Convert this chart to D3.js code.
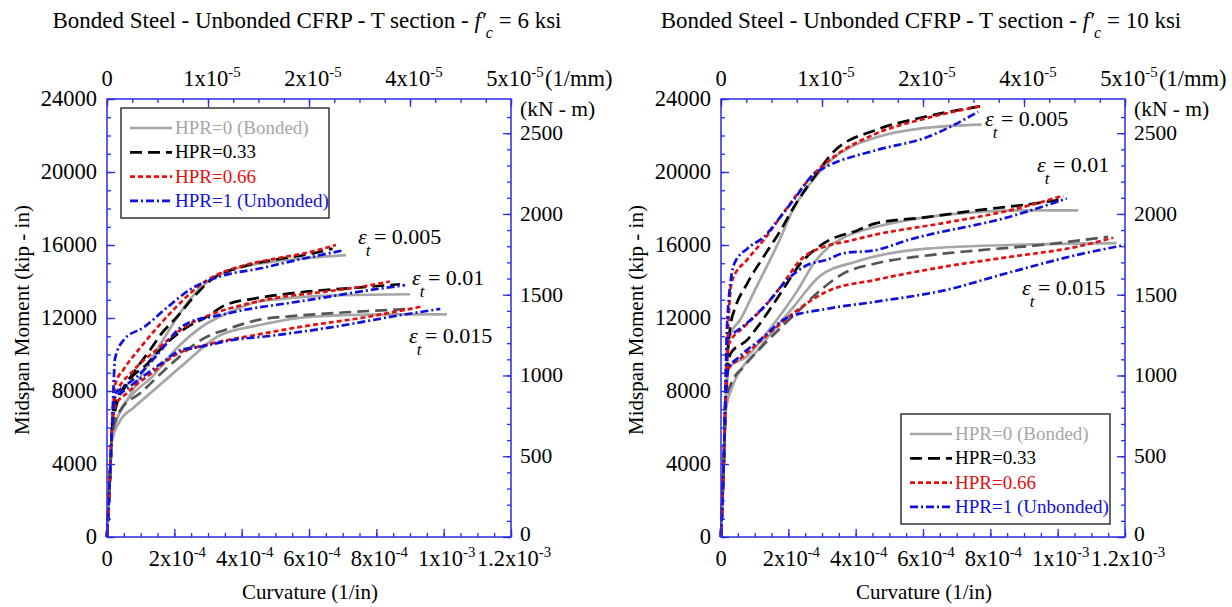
<!DOCTYPE html>
<html>
<head>
<meta charset="utf-8">
<script src="https://cdn.jsdelivr.net/npm/d3@7"></script>
<style>
  html, body { margin: 0; padding: 0; background: #fff; }
  svg { display: block; font-family: "Liberation Serif", "Times New Roman", serif; }
</style>
</head>
<body>
<svg id="chart" width="1232" height="607"></svg>
<script>
// Moment–curvature curves, [curvature (1/in), moment (kip-in)]
// f'c = 6 ksi
const f6_005_h0  = [[0,0],[0.08e-4,3000],[0.15e-4,5600],[0.3e-4,6500],[0.6e-4,7500],[1e-4,8800],[1.5e-4,10300],[2e-4,11800],[2.5e-4,13100],[3e-4,14000],[3.5e-4,14500],[4e-4,14800],[5e-4,15100],[6e-4,15300],[7.1e-4,15450]];
const f6_005_h33 = [[0,0],[0.08e-4,3000],[0.15e-4,5800],[0.2e-4,7200],[0.4e-4,7900],[0.9e-4,9300],[1.3e-4,10300],[1.6e-4,11100],[2.1e-4,12100],[2.6e-4,13200],[3.1e-4,14100],[4e-4,14800],[5e-4,15200],[6e-4,15500],[6.7e-4,15800]];
const f6_005_h66 = [[0,0],[0.08e-4,3000],[0.15e-4,6000],[0.25e-4,8400],[0.5e-4,9200],[1e-4,10400],[1.5e-4,11500],[2e-4,12500],[2.5e-4,13400],[3e-4,14100],[4e-4,14850],[5e-4,15250],[6e-4,15600],[6.8e-4,16000]];
const f6_005_h1  = [[0,0],[0.08e-4,3000],[0.15e-4,6000],[0.24e-4,9800],[0.5e-4,10800],[1.1e-4,11500],[1.8e-4,12600],[2.5e-4,13600],[3.4e-4,14300],[4.5e-4,14700],[5.7e-4,15200],[7e-4,15700]];
const f6_01_h0   = [[0,0],[0.08e-4,3000],[0.15e-4,5500],[0.4e-4,6900],[0.8e-4,7900],[1.3e-4,8700],[2.1e-4,10400],[2.8e-4,11500],[3.75e-4,12400],[4.5e-4,12900],[5.5e-4,13100],[7e-4,13250],[9e-4,13300]];
const f6_01_h33  = [[0,0],[0.08e-4,3000],[0.15e-4,5800],[0.25e-4,7000],[0.6e-4,8400],[1.2e-4,9500],[1.7e-4,10500],[2.3e-4,11400],[3e-4,12100],[3.5e-4,12700],[4.5e-4,13100],[5.7e-4,13400],[7.7e-4,13700],[8.7e-4,13850]];
const f6_01_h66  = [[0,0],[0.08e-4,3000],[0.15e-4,6000],[0.24e-4,7700],[0.8e-4,9150],[1.5e-4,10300],[2.3e-4,11500],[3.1e-4,12200],[4e-4,12700],[5e-4,13100],[6.5e-4,13450],[7.5e-4,13700],[8.4e-4,14000]];
const f6_01_h1   = [[0,0],[0.08e-4,3000],[0.15e-4,6000],[0.22e-4,7800],[0.4e-4,8100],[0.9e-4,8800],[1.5e-4,10000],[2.2e-4,11500],[2.5e-4,11800],[3.2e-4,12100],[4.25e-4,12500],[5.5e-4,12850],[6.7e-4,13200],[7.7e-4,13500],[8.85e-4,13800]];
const f6_015_h0  = [[0,0],[0.08e-4,3000],[0.15e-4,5300],[0.4e-4,6400],[0.8e-4,7100],[1.3e-4,7900],[2.3e-4,9500],[3.3e-4,11000],[4.5e-4,11600],[5.7e-4,12000],[7e-4,12150],[8.5e-4,12200],[1.01e-3,12200]];
const f6_015_h33 = [[0,0],[0.08e-4,3000],[0.15e-4,5600],[0.4e-4,6950],[1e-4,7900],[1.8e-4,9300],[2.8e-4,10800],[3.75e-4,11500],[4.5e-4,11900],[5.5e-4,12100],[7e-4,12300],[9.05e-4,12500]];
const f6_015_h66 = [[0,0],[0.08e-4,3000],[0.15e-4,5900],[0.25e-4,7200],[0.6e-4,7900],[1.3e-4,8950],[2.1e-4,10050],[3e-4,10550],[4.5e-4,11100],[5.7e-4,11500],[7.7e-4,12050],[9.4e-4,12650]];
const f6_015_h1  = [[0,0],[0.08e-4,3000],[0.15e-4,6000],[0.22e-4,7600],[0.5e-4,8000],[1e-4,8700],[1.6e-4,9500],[2.2e-4,10250],[2.7e-4,10400],[3.75e-4,10800],[4.75e-4,11000],[6.7e-4,11500],[8.7e-4,12150],[9.9e-4,12500]];

// f'c = 10 ksi
const f10_005_h0  = [[0,0],[0.08e-4,4000],[0.15e-4,8000],[0.24e-4,10900],[0.6e-4,12000],[1e-4,13500],[1.77e-4,16400],[2.1e-4,17800],[2.66e-4,19400],[3.3e-4,20700],[4.62e-4,21900],[6e-4,22400],[7.74e-4,22600]];
const f10_005_h33 = [[0,0],[0.08e-4,4000],[0.15e-4,8500],[0.3e-4,11800],[0.39e-4,12400],[0.78e-4,13900],[1.28e-4,15400],[1.77e-4,16800],[2.17e-4,18100],[2.76e-4,19700],[3.34e-4,21100],[4.6e-4,22300],[6e-4,23000],[7.69e-4,23600]];
const f10_005_h66 = [[0,0],[0.08e-4,4000],[0.15e-4,8500],[0.28e-4,13500],[0.34e-4,14100],[0.78e-4,15200],[1.28e-4,16300],[1.77e-4,17550],[2.27e-4,18800],[2.76e-4,19900],[3.4e-4,20900],[4.6e-4,22100],[6e-4,22900],[7.69e-4,23600]];
const f10_005_h1  = [[0,0],[0.08e-4,4000],[0.19e-4,12000],[0.4e-4,15000],[0.78e-4,15800],[1.28e-4,16450],[1.77e-4,17550],[2.17e-4,18500],[2.76e-4,19900],[3.14e-4,20300],[4.62e-4,21200],[6.11e-4,21900],[7.64e-4,23300]];
const f10_01_h0   = [[0,0],[0.08e-4,4000],[0.15e-4,7500],[0.24e-4,9300],[0.78e-4,9900],[1.28e-4,11000],[2.27e-4,13500],[2.76e-4,15000],[3.14e-4,15800],[3.75e-4,16500],[4.62e-4,17000],[6e-4,17500],[7.59e-4,17800],[9e-4,17900],[1.061e-3,17900]];
const f10_01_h33  = [[0,0],[0.08e-4,4000],[0.15e-4,8000],[0.29e-4,10070],[0.78e-4,10800],[1.08e-4,11500],[1.77e-4,13350],[2.37e-4,15000],[3.06e-4,16100],[4.05e-4,16800],[4.62e-4,17200],[6e-4,17500],[7.59e-4,17900],[9e-4,18200],[1.017e-3,18500]];
const f10_01_h66  = [[0,0],[0.08e-4,4000],[0.15e-4,8500],[0.24e-4,10600],[0.68e-4,11500],[1.28e-4,12600],[1.77e-4,13700],[2.37e-4,15200],[3.06e-4,15900],[3.75e-4,16200],[4.54e-4,16550],[6.6e-4,17200],[8.58e-4,17900],[1.017e-3,18700]];
const f10_01_h1   = [[0,0],[0.08e-4,4000],[0.2e-4,11000],[0.39e-4,11200],[0.98e-4,12070],[1.37e-4,12800],[1.97e-4,14100],[2.56e-4,14900],[3.16e-4,15200],[3.63e-4,15550],[4.54e-4,15700],[5.61e-4,16300],[8.58e-4,17550],[1.027e-3,18550]];
const f10_015_h0  = [[0,0],[0.08e-4,4000],[0.15e-4,7000],[0.27e-4,7900],[1.16e-4,10400],[2.15e-4,12600],[2.94e-4,14300],[4.03e-4,15100],[6.11e-4,15800],[8.58e-4,16000],[1.175e-3,16100]];
const f10_015_h33 = [[0,0],[0.08e-4,4000],[0.15e-4,7500],[0.3e-4,8400],[0.66e-4,9300],[1.3e-4,10600],[2.25e-4,12300],[2.94e-4,13500],[3.6e-4,14400],[4.62e-4,15000],[6e-4,15400],[7.59e-4,15700],[9.5e-4,16000],[1.15e-3,16450]];
const f10_015_h66 = [[0,0],[0.08e-4,4000],[0.15e-4,8000],[0.2e-4,9150],[0.66e-4,9900],[1.65e-4,11500],[2.25e-4,12400],[3.14e-4,13450],[4.62e-4,14100],[6.6e-4,14800],[8.58e-4,15350],[1.056e-3,15900],[1.165e-3,16400]];
const f10_015_h1  = [[0,0],[0.08e-4,4000],[0.15e-4,8000],[0.2e-4,9150],[0.56e-4,9900],[1.16e-4,10800],[1.95e-4,12000],[3.14e-4,12500],[4.62e-4,12900],[6.6e-4,13500],[8.58e-4,14500],[1.056e-3,15450],[1.2e-3,16000]];

// Legend entries and strain-level annotations
const hprLabels = ["HPR=0 (Bonded)", "HPR=0.33", "HPR=0.66", "HPR=1 (Unbonded)"];
const strainLabels = ["0.005", "0.01", "0.015"];

// Axis tick values and labels
const momentTicks = [0, 4000, 8000, 12000, 16000, 20000, 24000];
const knmTicks = [0, 500, 1000, 1500, 2000, 2500];
const curvTicks = [0, 2e-4, 4e-4, 6e-4, 8e-4, 1e-3, 1.2e-3];
const curvLabels = [["0", null], ["2x10", "-4"], ["4x10", "-4"], ["6x10", "-4"], ["8x10", "-4"], ["1x10", "-3"], ["1.2x10", "-3"]];
const topLabels = [["0", null], ["1x10", "-5"], ["2x10", "-5"], ["4x10", "-5"], ["5x10", "-5"]];

const KIPIN_TO_KNM = 0.1129848;

// Line styles for the four HPR cases
const styles = [
  { color: "#a6a6a6", dash: null,      width: 2.7 },
  { color: "#000000", dash: "12,6",    width: 2.7 },
  { color: "#e31010", dash: "5,3",     width: 2.7 },
  { color: "#1010dd", dash: "8,3,2,3", width: 2.7 }
];
const legendText = ["#a6a6a6", "#000000", "#e31010", "#1010dd"];
const axisBlue = "#2a2ae6";

const panels = [
  {
    x0: 107, fc: "6", titleGap: " ",
    curves: [[f6_005_h0, f6_005_h33, f6_005_h66, f6_005_h1],
             [f6_01_h0, f6_01_h33, f6_01_h66, f6_01_h1],
             [f6_015_h0, f6_015_h33, f6_015_h66, f6_015_h1]],
    strainPos: [[358, 244], [412, 285], [409, 343]],
    legend: { x: 121, y: 108, w: 208, h: 110 }
  },
  {
    x0: 721, fc: "10", titleGap: "  ",
    curves: [[f10_005_h0, f10_005_h33, f10_005_h66, f10_005_h1],
             [f10_01_h0, f10_01_h33, f10_01_h66, f10_01_h1],
             [f10_015_h0, f10_015_h33, f10_015_h66, f10_015_h1]],
    strainPos: [[985, 126], [1037, 172], [1022, 295]],
    legend: { x: 901, y: 414, w: 209, h: 110 }
  }
];

const svg = d3.select("#chart");
const plotTop = 99, plotBottom = 537, plotW = 404;

function sciText(sel, base, exp, size) {
  sel.append("tspan").text(base);
  if (exp) sel.append("tspan").attr("dy", -9).attr("font-size", size * 0.66).text(exp);
}

panels.forEach(p => {
  const g = svg.append("g");
  const x = d3.scaleLinear([0, 1.2e-3], [p.x0, p.x0 + plotW]);
  const y = d3.scaleLinear([0, 24000], [plotBottom, plotTop]);
  const yKN = d3.scaleLinear([0, 24000 * KIPIN_TO_KNM], [plotBottom, plotTop]);
  const xTop = d3.scaleLinear([0, topLabels.length - 1], [p.x0, p.x0 + plotW]);
  const cx = p.x0 + plotW / 2;

  // Title
  const title = g.append("text").attr("x", cx - 2).attr("y", 28)
    .attr("text-anchor", "middle").attr("font-size", 23).attr("fill", "#000");
  title.append("tspan").text("Bonded Steel - Unbonded CFRP - T section -" + p.titleGap);
  title.append("tspan").attr("font-style", "italic").text("f\u2032");
  title.append("tspan").attr("font-style", "italic").attr("font-size", 16).attr("dy", 10).text("c");
  title.append("tspan").attr("dy", -10).text(" = " + p.fc + " ksi");

  // Curves
  const line = d3.line().x(d => x(d[0])).y(d => y(d[1])).curve(d3.curveMonotoneX);
  p.curves.forEach((grp, gi) => {
    grp.forEach((data, hi) => {
      const s = styles[hi];
      const color = (hi === 1 && gi === 2) ? "#555555" : s.color;
      g.append("path").datum(data).attr("d", line)
        .attr("fill", "none").attr("stroke", color).attr("stroke-width", s.width)
        .attr("stroke-dasharray", s.dash).attr("stroke-linejoin", "round");
    });
  });

  // Axes: ticks point inward
  const tickAxis = (axisFn, scale, values, len, transform) => {
    g.append("g").attr("transform", transform)
      .call(axisFn(scale).tickValues(values).tickSize(len).tickFormat(""))
      .call(a => a.select(".domain").remove())
      .call(a => a.selectAll("line").attr("stroke", axisBlue).attr("stroke-width", 1.3));
  };
  tickAxis(d3.axisBottom, x, d3.range(0, 25).map(i => i * 0.5e-4), -4, `translate(0,${plotBottom})`);
  tickAxis(d3.axisBottom, x, curvTicks, -8, `translate(0,${plotBottom})`);
  tickAxis(d3.axisLeft, y, d3.range(0, 25).map(i => i * 1000), -4, `translate(${p.x0},0)`);
  tickAxis(d3.axisLeft, y, momentTicks, -8, `translate(${p.x0},0)`);
  tickAxis(d3.axisTop, xTop, d3.range(0, 17).map(i => i / 4), -4, `translate(0,${plotTop})`);
  tickAxis(d3.axisTop, xTop, d3.range(0, topLabels.length), -8, `translate(0,${plotTop})`);
  tickAxis(d3.axisRight, yKN, d3.range(0, 27).map(i => i * 100), -4, `translate(${p.x0 + plotW},0)`);
  tickAxis(d3.axisRight, yKN, knmTicks, -8, `translate(${p.x0 + plotW},0)`);

  g.append("rect").attr("x", p.x0).attr("y", plotTop).attr("width", plotW).attr("height", plotBottom - plotTop)
    .attr("fill", "none").attr("stroke", axisBlue).attr("stroke-width", 1.5);

  const fs = 22.5;
  // Left tick labels
  momentTicks.forEach(v => {
    g.append("text").attr("x", p.x0 - 10).attr("y", y(v) + 7).attr("text-anchor", "end")
      .attr("font-size", fs).text(v);
  });
  // Right tick labels (kN-m)
  knmTicks.forEach(v => {
    g.append("text").attr("x", p.x0 + plotW + 9).attr("y", yKN(v) + (v === 0 ? 4 : 7))
      .attr("font-size", 21.5).text(v);
  });
  g.append("text").attr("x", p.x0 + plotW + 9).attr("y", 116).attr("font-size", 21.5).text("(kN - m)");

  // Bottom tick labels
  curvTicks.forEach((v, i) => {
    const t = g.append("text").attr("x", x(v) + (i === 0 ? 0 : 3)).attr("y", 566)
      .attr("text-anchor", "middle").attr("font-size", fs);
    sciText(t, curvLabels[i][0], curvLabels[i][1], fs);
  });
  // Top tick labels (1/mm)
  topLabels.forEach((lab, i) => {
    const t = g.append("text").attr("x", xTop(i) + (i === 0 ? 0 : 4)).attr("y", 86)
      .attr("text-anchor", "middle").attr("font-size", fs);
    sciText(t, lab[0], lab[1], fs);
  });
  g.append("text").attr("x", p.x0 + plotW + 34).attr("y", 86).attr("font-size", fs).text("(1/mm)");

  // Axis titles
  g.append("text").attr("x", cx + 1).attr("y", 599).attr("text-anchor", "middle")
    .attr("font-size", 21).text("Curvature (1/in)");
  g.append("text").attr("transform", `translate(${p.x0 - 78},${(plotTop + plotBottom) / 2 + 2}) rotate(-90)`)
    .attr("text-anchor", "middle").attr("font-size", 21).text("Midspan Moment (kip - in)");

  // Strain-level annotations
  strainLabels.forEach((lab, i) => {
    const [sx, sy] = p.strainPos[i];
    const t = g.append("text").attr("x", sx).attr("y", sy).attr("font-size", 22);
    t.append("tspan").attr("font-style", "italic").text("\u03b5");
    t.append("tspan").attr("font-style", "italic").attr("font-size", 17).attr("dy", 12).attr("dx", -1).text("t");
    t.append("tspan").attr("dy", -12).attr("dx", -2).text(" = " + lab);
  });

  // Legend
  const L = p.legend;
  g.append("rect").attr("x", L.x).attr("y", L.y).attr("width", L.w).attr("height", L.h)
    .attr("fill", "#fff").attr("stroke", "#333").attr("stroke-width", 1.5);
  hprLabels.forEach((lab, i) => {
    const ly = L.y + 20 + i * 24.3;
    const s = styles[i];
    g.append("line").attr("x1", L.x + 9).attr("x2", L.x + 51).attr("y1", ly).attr("y2", ly)
      .attr("stroke", s.color).attr("stroke-width", s.width).attr("stroke-dasharray", s.dash);
    g.append("text").attr("x", L.x + 54).attr("y", ly + 6).attr("font-size", 19)
      .attr("fill", legendText[i]).text(lab);
  });
});
</script>
</body>
</html>
